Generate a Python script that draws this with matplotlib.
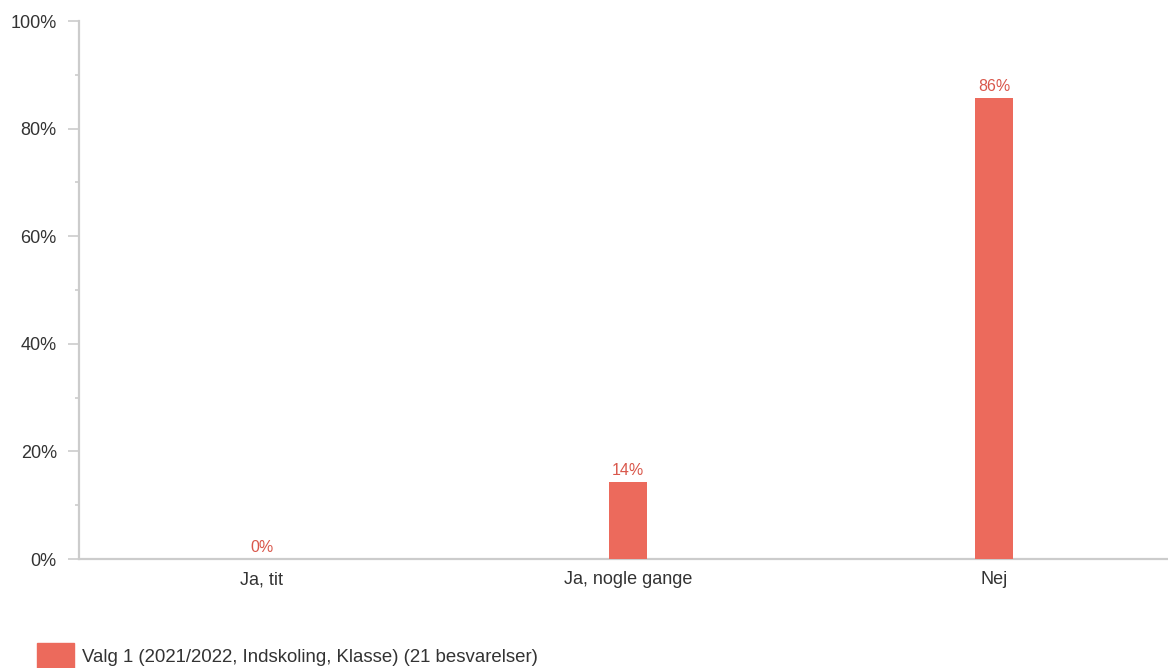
import matplotlib
matplotlib.use("Agg")
import matplotlib.pyplot as plt
import numpy as np
from matplotlib.patches import Rectangle
from matplotlib.ticker import MultipleLocator, PercentFormatter

categories = ["Ja, tit", "Ja, nogle gange", "Nej"]
values = [0.0, 14.29, 85.71]
value_labels = ["0%", "14%", "86%"]
series_name = "Valg 1 (2021/2022, Indskoling, Klasse) (21 besvarelser)"

BAR_COLOR = "#EC6A5C"
LABEL_COLOR = "#D9574B"
TEXT_COLOR = "#333333"
AXIS_COLOR = "#CCCCCC"

plt.rcParams["font.family"] = ["Liberation Sans", "DejaVu Sans"]

W, H = 1168, 668
fig = plt.figure(figsize=(W / 100, H / 100), dpi=100)
# plot area runs a little past the right edge of the image, as in the original
ax = fig.add_axes([79 / W, 1 - 559 / H, 1098 / W, (559 - 21) / H])

x = np.arange(len(categories))
ax.bar(x, values, width=0.104, color=BAR_COLOR, zorder=3)
for xi, v, lab in zip(x, values, value_labels):
    ax.annotate(lab, (xi, v), xytext=(0, 3), textcoords="offset points",
                ha="center", va="bottom", fontsize=11.5, color=LABEL_COLOR)

ax.set_xlim(-0.5, len(categories) - 0.5)
ax.set_ylim(0, 100)
ax.yaxis.set_major_locator(MultipleLocator(20))
ax.yaxis.set_minor_locator(MultipleLocator(10))
ax.yaxis.set_major_formatter(PercentFormatter(decimals=0))
ax.set_xticks(x)
ax.set_xticklabels(categories)

for side in ("top", "right"):
    ax.spines[side].set_visible(False)
for side in ("left", "bottom"):
    ax.spines[side].set_color(AXIS_COLOR)
    ax.spines[side].set_linewidth(1.6)
    ax.spines[side].set_clip_on(False)

ax.tick_params(axis="y", which="major", length=8, width=1.2, color=AXIS_COLOR,
               labelsize=13, labelcolor=TEXT_COLOR, pad=8)
ax.tick_params(axis="y", which="minor", length=3, width=1.2, color=AXIS_COLOR)
ax.tick_params(axis="x", length=0, labelsize=13, labelcolor=TEXT_COLOR, pad=9)

# legend at the bottom (partially cut off like the original)
fig.patches.append(Rectangle((37 / W, -0.01), 37 / W, 25 / H + 0.01,
                             transform=fig.transFigure, color=BAR_COLOR))
fig.text(82 / W, 1 - 657 / H, series_name, ha="left", va="center",
         fontsize=13.4, color=TEXT_COLOR)

fig.savefig("out.png", dpi=100, facecolor="white")
